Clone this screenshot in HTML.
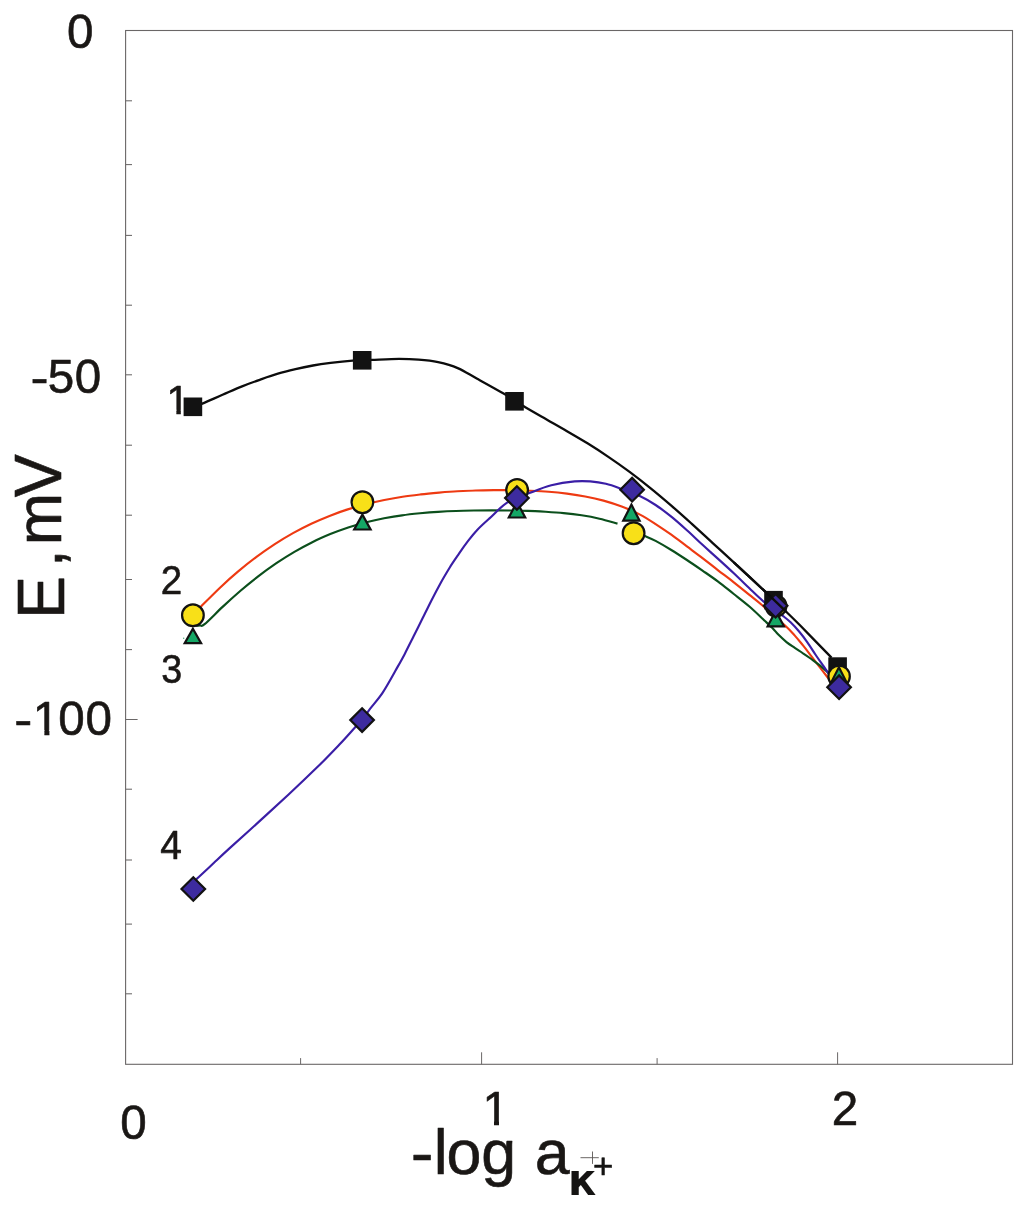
<!DOCTYPE html>
<html lang="en">
<head>
<meta charset="utf-8">
<title>E, mV vs -log a K+</title>
<style>
html,body{margin:0;padding:0;background:#fff;}
body{width:1024px;height:1211px;overflow:hidden;}
svg{display:block;}
</style>
</head>
<body>
<svg width="1024" height="1211" viewBox="0 0 1024 1211">
<rect width="1024" height="1211" fill="#ffffff"/>
<rect x="125.6" y="30.5" width="886.9" height="1033.8" fill="none" stroke="#6a6767" stroke-width="1.1"/>
<line x1="125.6" y1="100.8" x2="132.0" y2="100.8" stroke="#6a6767" stroke-width="1.05"/>
<line x1="125.6" y1="164.6" x2="132.0" y2="164.6" stroke="#6a6767" stroke-width="1.05"/>
<line x1="125.6" y1="235.4" x2="132.0" y2="235.4" stroke="#6a6767" stroke-width="1.05"/>
<line x1="125.6" y1="305.2" x2="132.0" y2="305.2" stroke="#6a6767" stroke-width="1.05"/>
<line x1="125.6" y1="374.8" x2="132.0" y2="374.8" stroke="#6a6767" stroke-width="1.05"/>
<line x1="125.6" y1="445.2" x2="132.0" y2="445.2" stroke="#6a6767" stroke-width="1.05"/>
<line x1="125.6" y1="515.2" x2="132.0" y2="515.2" stroke="#6a6767" stroke-width="1.05"/>
<line x1="125.6" y1="579.5" x2="132.0" y2="579.5" stroke="#6a6767" stroke-width="1.05"/>
<line x1="125.6" y1="649.6" x2="132.0" y2="649.6" stroke="#6a6767" stroke-width="1.05"/>
<line x1="125.6" y1="719.5" x2="137.6" y2="719.5" stroke="#6a6767" stroke-width="1.05"/>
<line x1="125.6" y1="789.2" x2="132.0" y2="789.2" stroke="#6a6767" stroke-width="1.05"/>
<line x1="125.6" y1="860.0" x2="132.0" y2="860.0" stroke="#6a6767" stroke-width="1.05"/>
<line x1="125.6" y1="924.1" x2="132.0" y2="924.1" stroke="#6a6767" stroke-width="1.05"/>
<line x1="125.6" y1="993.8" x2="132.0" y2="993.8" stroke="#6a6767" stroke-width="1.05"/>
<line x1="300.6" y1="1064.3" x2="300.6" y2="1058.1" stroke="#6a6767" stroke-width="1.0"/>
<line x1="481.6" y1="1064.3" x2="481.6" y2="1052.3" stroke="#6a6767" stroke-width="1.0"/>
<line x1="657.1" y1="1064.3" x2="657.1" y2="1058.1" stroke="#6a6767" stroke-width="1.0"/>
<line x1="837.6" y1="1064.3" x2="837.6" y2="1052.3" stroke="#6a6767" stroke-width="1.0"/>
<path d="M196.0 612.0 C196.9 611.0 197.7 609.9 201.7 605.8 C205.7 601.8 213.9 593.5 220.0 587.7 C226.0 582.0 232.1 576.5 238.2 571.4 C244.3 566.3 250.4 561.4 256.5 556.9 C262.6 552.3 268.7 548.1 274.8 544.1 C280.8 540.2 286.9 536.5 293.0 533.1 C299.1 529.7 305.2 526.6 311.3 523.7 C317.4 520.9 323.4 518.3 329.5 515.9 C335.6 513.5 341.7 511.3 347.8 509.4 C353.9 507.4 360.0 505.7 366.1 504.2 C372.1 502.6 378.2 501.2 384.3 500.0 C390.4 498.8 396.5 497.7 402.6 496.8 C408.7 495.8 414.8 495.1 420.8 494.4 C426.9 493.6 433.0 493.1 439.1 492.6 C445.2 492.1 451.3 491.6 457.4 491.3 C463.5 491.0 469.6 490.7 475.6 490.5 C481.7 490.3 487.8 490.2 493.9 490.1 C500.0 490.1 506.1 490.1 512.2 490.2 C518.2 490.3 524.3 490.4 530.4 490.7 C536.5 491.0 542.6 491.3 548.7 491.8 C554.8 492.3 560.9 492.9 567.0 493.6 C573.0 494.4 579.1 495.3 585.2 496.5 C591.3 497.6 597.4 498.9 603.5 500.6 C609.6 502.3 615.6 504.2 621.7 506.5 C627.8 508.8 634.4 511.6 640.0 514.6 C645.6 517.5 650.4 520.7 655.6 524.1 C660.8 527.5 666.1 531.0 671.3 534.7 C676.5 538.4 681.7 542.5 686.9 546.4 C692.1 550.3 697.3 554.1 702.5 558.1 C707.7 562.1 712.9 566.3 718.1 570.3 C723.3 574.3 728.6 578.2 733.8 582.3 C739.0 586.4 744.7 591.0 749.4 594.8 C754.1 598.6 755.9 599.8 761.9 605.0 C767.9 610.2 779.8 620.7 785.3 625.8 C790.8 630.9 791.8 632.3 794.8 635.6 C797.8 638.9 800.2 642.0 803.0 645.4 C805.8 648.8 808.5 652.5 811.3 656.1 C814.0 659.7 817.0 663.6 819.5 666.8 C822.0 670.0 824.3 673.0 826.2 675.5 C828.1 678.0 830.2 680.5 831.0 681.5" fill="none" stroke="#ee3a12" stroke-width="2.15" stroke-linecap="butt" stroke-linejoin="round"/>
<path d="M196.0 625.6 C196.7 625.6 198.6 625.6 200.0 625.4 C201.4 625.2 200.8 627.3 204.6 624.2 C208.4 621.2 216.6 612.5 222.6 606.9 C228.5 601.4 234.5 596.0 240.5 590.8 C246.5 585.7 252.5 580.8 258.5 576.2 C264.4 571.6 270.4 567.3 276.4 563.2 C282.4 559.2 288.4 555.4 294.4 551.9 C300.3 548.4 306.3 545.2 312.3 542.2 C318.3 539.2 324.3 536.6 330.3 534.1 C336.2 531.7 342.2 529.5 348.2 527.5 C354.2 525.6 360.2 523.9 366.2 522.3 C372.2 520.8 378.1 519.5 384.1 518.3 C390.1 517.2 396.1 516.2 402.1 515.4 C408.1 514.5 414.0 513.9 420.0 513.3 C426.0 512.7 432.0 512.2 438.0 511.9 C444.0 511.5 449.9 511.2 455.9 511.0 C461.9 510.7 467.9 510.6 473.9 510.5 C479.9 510.4 485.9 510.3 491.8 510.3 C497.8 510.3 503.8 510.4 509.8 510.5 C515.8 510.6 521.8 510.7 527.7 510.9 C533.7 511.1 539.7 511.4 545.7 511.7 C551.7 512.1 557.7 512.5 563.6 513.1 C569.6 513.7 575.6 514.4 581.6 515.3 C587.6 516.2 593.6 517.3 599.5 518.7 C605.5 520.0 614.5 522.8 617.5 523.6" fill="none" stroke="#0b4f1c" stroke-width="2.15" stroke-linecap="butt" stroke-linejoin="round"/>
<path d="M640.0 534.0 C640.9 534.4 642.9 535.1 645.5 536.3 C648.1 537.4 651.3 538.6 655.6 540.9 C659.9 543.2 666.1 546.8 671.3 550.0 C676.5 553.2 681.7 556.6 686.9 560.0 C692.1 563.4 697.3 567.0 702.5 570.6 C707.7 574.2 712.9 577.7 718.1 581.6 C723.3 585.5 728.6 589.9 733.8 594.0 C739.0 598.1 744.2 602.0 749.4 606.5 C754.6 611.0 761.0 617.3 765.0 621.0 C769.0 624.7 771.1 626.6 773.3 628.9 C775.5 631.2 776.1 632.4 778.3 634.6 C780.5 636.8 783.8 639.9 786.5 642.1 C789.2 644.3 792.0 646.0 794.8 647.9 C797.5 649.8 800.2 651.4 803.0 653.3 C805.8 655.1 808.5 657.0 811.3 659.0 C814.0 661.0 816.9 663.1 819.5 665.2 C822.1 667.3 824.9 669.9 827.0 671.8 C829.1 673.7 831.2 675.7 832.0 676.5" fill="none" stroke="#0b4f1c" stroke-width="2.15" stroke-linecap="butt" stroke-linejoin="round"/>
<path d="M195.5 880.2 C196.1 879.7 195.7 879.9 198.8 877.0 C201.9 874.1 208.8 867.6 214.0 862.8 C219.2 857.9 222.4 854.8 230.0 847.9 C237.6 841.0 249.5 830.3 259.3 821.4 C269.1 812.5 278.8 803.6 288.6 794.5 C298.4 785.4 309.3 775.0 317.9 766.6 C326.4 758.2 333.8 750.4 339.9 744.0 C346.0 737.6 350.8 732.0 354.5 728.0 C358.2 724.0 359.5 723.3 362.1 720.1 C364.7 716.9 366.6 713.5 370.0 708.9 C373.4 704.3 378.5 699.0 382.7 692.6 C386.9 686.2 391.8 677.2 395.4 670.8 C399.0 664.4 401.5 660.1 404.5 654.4 C407.5 648.6 410.6 642.3 413.6 636.3 C416.6 630.2 419.7 624.2 422.7 618.1 C425.7 612.0 428.7 605.8 431.7 599.9 C434.7 594.0 437.8 588.2 440.8 582.7 C443.8 577.2 446.9 572.1 449.9 567.2 C452.9 562.4 456.0 558.0 459.0 553.6 C462.0 549.2 465.1 544.8 468.1 540.9 C471.1 537.0 473.6 533.8 477.2 530.0 C480.8 526.2 484.5 522.9 489.5 518.4 C494.5 513.9 500.5 506.9 507.1 502.7 C513.8 498.5 522.0 496.0 529.4 493.1 C536.8 490.2 543.8 487.2 551.3 485.3 C558.8 483.4 568.2 482.0 574.7 481.4 C581.2 480.8 585.1 481.0 590.3 481.4 C595.5 481.8 600.9 482.6 605.9 483.8 C610.9 485.0 614.3 486.3 620.0 488.4 C625.7 490.5 634.4 493.5 640.3 496.3 C646.2 499.1 650.4 501.6 655.6 505.0 C660.8 508.4 666.1 512.5 671.3 516.7 C676.5 520.9 681.7 525.6 686.9 530.3 C692.1 535.0 697.3 540.0 702.5 544.8 C707.7 549.6 712.9 554.1 718.1 558.9 C723.3 563.6 728.6 568.4 733.8 573.3 C739.0 578.2 744.5 583.6 749.4 588.3 C754.3 593.0 757.8 596.7 763.4 601.3 C769.0 605.9 778.7 612.6 783.2 616.1 C787.7 619.6 788.0 619.8 790.6 622.3 C793.2 624.8 796.1 628.0 798.9 631.3 C801.7 634.6 804.5 638.2 807.2 642.1 C810.0 646.0 812.8 650.6 815.4 654.5 C818.0 658.4 820.7 662.2 822.8 665.2 C824.9 668.2 826.3 670.0 827.8 672.2 C829.3 674.4 831.3 677.5 832.0 678.5" fill="none" stroke="#3a1ea6" stroke-width="2.15" stroke-linecap="butt" stroke-linejoin="round"/>
<path d="M193.0 407.0 C194.6 406.4 197.4 405.6 202.3 403.6 C207.2 401.6 215.8 397.7 222.5 394.8 C229.2 391.9 236.4 388.6 242.7 386.1 C249.0 383.6 254.4 381.7 260.3 379.6 C266.2 377.5 272.0 375.4 277.9 373.7 C283.8 372.0 289.6 370.6 295.5 369.2 C301.4 367.8 307.1 366.6 313.0 365.5 C318.9 364.4 324.0 363.7 330.6 362.9 C337.2 362.1 345.8 361.2 352.6 360.7 C359.5 360.2 363.9 360.2 371.7 359.9 C379.4 359.6 391.3 358.9 399.1 358.9 C406.9 358.9 412.1 359.1 418.6 359.7 C425.1 360.2 431.6 360.8 438.1 362.2 C444.6 363.6 451.2 365.3 457.7 368.1 C464.2 370.9 469.4 374.5 477.2 378.8 C485.0 383.1 496.5 389.4 504.5 394.1 C512.5 398.8 518.4 403.0 525.3 407.2 C532.3 411.3 539.2 415.2 546.2 419.2 C553.1 423.2 560.1 427.1 567.0 431.2 C574.0 435.2 580.9 439.3 587.9 443.6 C594.8 447.9 601.8 452.4 608.7 457.1 C615.7 461.8 622.6 466.7 629.6 471.9 C636.5 477.0 643.5 482.5 650.4 488.1 C657.4 493.7 664.3 499.6 671.3 505.6 C678.2 511.6 685.2 517.9 692.1 524.1 C699.1 530.4 706.0 536.9 713.0 543.3 C719.9 549.6 725.1 554.3 733.8 562.3 C742.5 570.3 756.2 583.1 765.0 591.4 C773.8 599.7 780.7 606.4 786.5 612.0" fill="none" stroke="#0c0c0c" stroke-width="2.30" stroke-linecap="butt" stroke-linejoin="round"/>
<rect x="183.6" y="397.5" width="18.6" height="18.6" fill="#121212"/>
<rect x="352.9" y="351.0" width="18.6" height="18.6" fill="#121212"/>
<rect x="505.2" y="392.0" width="18.6" height="18.6" fill="#121212"/>
<rect x="764.2" y="590.9" width="18.6" height="18.6" fill="#121212"/>
<rect x="828.3" y="657.3" width="18.6" height="18.6" fill="#121212"/>
<circle cx="192.9" cy="615.3" r="10.85" fill="#f8e018" stroke="#121212" stroke-width="2.2"/>
<circle cx="362.4" cy="502.2" r="10.85" fill="#f8e018" stroke="#121212" stroke-width="2.2"/>
<circle cx="517.1" cy="490.0" r="10.85" fill="#f8e018" stroke="#121212" stroke-width="2.2"/>
<circle cx="633.6" cy="533.2" r="10.85" fill="#f8e018" stroke="#121212" stroke-width="2.2"/>
<circle cx="776.0" cy="606.0" r="10.40" fill="#f8e018" stroke="#121212" stroke-width="2.2"/>
<circle cx="839.1" cy="676.4" r="10.70" fill="#f8e018" stroke="#121212" stroke-width="2.2"/>
<path d="M192.9 628.7 L201.1 643.1 L184.7 643.1Z" fill="#14a765" stroke="#121212" stroke-width="2.2" stroke-linejoin="miter"/>
<path d="M362.4 514.6 L370.6 529.5 L354.2 529.5Z" fill="#14a765" stroke="#121212" stroke-width="2.2" stroke-linejoin="miter"/>
<path d="M517.0 501.9 L525.2 517.5 L508.8 517.5Z" fill="#14a765" stroke="#121212" stroke-width="2.2" stroke-linejoin="miter"/>
<path d="M631.4 504.6 L639.6 520.7 L623.2 520.7Z" fill="#14a765" stroke="#121212" stroke-width="2.2" stroke-linejoin="miter"/>
<path d="M775.8 610.9 L784.0 626.3 L767.6 626.3Z" fill="#14a765" stroke="#121212" stroke-width="2.2" stroke-linejoin="miter"/>
<path d="M838.9 667.3 L847.1 683.3 L830.7 683.3Z" fill="#14a765" stroke="#121212" stroke-width="2.2" stroke-linejoin="miter"/>
<path d="M193.3 877.2 L205.1 889.0 L193.3 900.8 L181.5 889.0Z" fill="#3d2b9f" stroke="#121212" stroke-width="2.2" stroke-linejoin="miter"/>
<path d="M362.1 708.3 L373.9 720.1 L362.1 731.9 L350.3 720.1Z" fill="#3d2b9f" stroke="#121212" stroke-width="2.2" stroke-linejoin="miter"/>
<path d="M516.9 486.2 L528.7 498.0 L516.9 509.8 L505.1 498.0Z" fill="#3d2b9f" stroke="#121212" stroke-width="2.2" stroke-linejoin="miter"/>
<path d="M632.1 477.9 L643.9 489.7 L632.1 501.5 L620.3 489.7Z" fill="#3d2b9f" stroke="#121212" stroke-width="2.2" stroke-linejoin="miter"/>
<path d="M775.6 593.9 L787.4 605.7 L775.6 617.5 L763.8 605.7Z" fill="#3d2b9f" stroke="#121212" stroke-width="2.2" stroke-linejoin="miter"/>
<path d="M839.1 675.4 L850.9 687.2 L839.1 699.0 L827.3 687.2Z" fill="#3d2b9f" stroke="#121212" stroke-width="2.2" stroke-linejoin="miter"/>
<circle cx="183.7" cy="638.2" r="0.7" fill="#4aa876"/>
<path d="M733.8 562.3 C742.5 570.3 756.2 583.1 765.0 591.4 C773.8 599.7 780.7 606.4 786.5 612.0 C792.3 617.6 792.5 617.7 800.0 625.3 C807.5 632.9 826.2 652.2 831.5 657.6" fill="none" stroke="#0c0c0c" stroke-width="2.30" stroke-linecap="butt" stroke-linejoin="round"/>
<text transform="translate(67.06 47.50) scale(1 1.0250)" x="0.00" y="0.00" font-family='"Liberation Sans", sans-serif' font-size="47.60" fill="#1a1715" stroke="#1a1715" stroke-width="0.60" stroke-linejoin="round">0</text>
<text transform="translate(30.56 392.90) scale(1 1.0250)" x="0.00 17.30 44.15" y="0.68 0.00 0.00" font-family='"Liberation Sans", sans-serif' font-size="47.60" fill="#1a1715" stroke="#1a1715" stroke-width="0.60" stroke-linejoin="round"><tspan textLength="18.07" lengthAdjust="spacingAndGlyphs">-</tspan>50</text>
<clipPath id="c1_1"><path clip-rule="evenodd" d="M-50 -50H1100V1300H-50ZM34.45 729.96H44.39V737.10H34.45ZM49.40 729.96H58.97V737.10H49.40Z"/></clipPath>
<g clip-path="url(#c1_1)"><text transform="translate(14.16 735.10) scale(1 1.0250)" x="0.00 18.66 44.15 71.30" y="0.78 0.00 0.00 0.00" font-family='"Liberation Sans", sans-serif' font-size="47.60" fill="#1a1715" stroke="#1a1715" stroke-width="0.60" stroke-linejoin="round"><tspan textLength="18.07" lengthAdjust="spacingAndGlyphs">-</tspan>100</text></g>
<text transform="translate(120.16 1139.20) scale(1 1.0250)" x="0.00" y="0.00" font-family='"Liberation Sans", sans-serif' font-size="47.60" fill="#1a1715" stroke="#1a1715" stroke-width="0.60" stroke-linejoin="round">0</text>
<clipPath id="c1_2"><path clip-rule="evenodd" d="M-50 -50H1100V1300H-50ZM484.05 1119.66H493.99V1126.80H484.05ZM499.00 1119.66H508.57V1126.80H499.00Z"/></clipPath>
<g clip-path="url(#c1_2)"><text transform="translate(482.42 1124.80) scale(1 1.0250)" x="0.00" y="0.00" font-family='"Liberation Sans", sans-serif' font-size="47.60" fill="#1a1715" stroke="#1a1715" stroke-width="0.60" stroke-linejoin="round">1</text></g>
<text transform="translate(831.81 1125.00) scale(1 1.0250)" x="0.00" y="0.00" font-family='"Liberation Sans", sans-serif' font-size="47.60" fill="#1a1715" stroke="#1a1715" stroke-width="0.60" stroke-linejoin="round">2</text>
<clipPath id="c1_3"><path clip-rule="evenodd" d="M-50 -50H1100V1300H-50ZM167.59 409.84H176.38V416.40H167.59ZM180.80 409.84H189.27V416.40H180.80Z"/></clipPath>
<g clip-path="url(#c1_3)"><text transform="translate(166.47 414.40)" x="0.00" y="0.00" font-family='"Liberation Sans", sans-serif' font-size="41.00" fill="#1a1715" stroke="#1a1715" stroke-width="0.60" stroke-linejoin="round">1</text></g>
<text transform="translate(160.68 594.30) scale(0.9400 1.0100)" x="0.00" y="0" font-family='"Liberation Sans", sans-serif' font-size="41.00" font-weight="normal" fill="#1a1715" stroke="#1a1715" stroke-width="0.60" stroke-linejoin="round">2</text>
<text transform="translate(161.32 683.00) scale(0.9200 1.0100)" x="0.00" y="0" font-family='"Liberation Sans", sans-serif' font-size="41.00" font-weight="normal" fill="#1a1715" stroke="#1a1715" stroke-width="0.60" stroke-linejoin="round">3</text>
<text transform="translate(160.19 858.65) scale(0.9500 1.0000)" x="0.00" y="0" font-family='"Liberation Sans", sans-serif' font-size="41.00" font-weight="normal" fill="#1a1715" stroke="#1a1715" stroke-width="0.60" stroke-linejoin="round">4</text>
<text transform="translate(410.80 1173.90)" x="0.00 22.90 35.80 70.50 105.70 123.90 157.20 182.10" y="0.00 0.00 0.00 0.00 0.00 0.00 20.80 3.80" font-family='"Liberation Sans", sans-serif' font-size="62.70" fill="#1a1715" stroke="#1a1715" stroke-width="0.60" stroke-linejoin="round"><tspan textLength="22.76" lengthAdjust="spacingAndGlyphs">-</tspan>log a<tspan font-size="45.00" textLength="28.25" lengthAdjust="spacingAndGlyphs" font-family="'DejaVu Sans', 'Liberation Sans', sans-serif" font-weight="bold" fill="#151413" stroke-width="0">к</tspan><tspan font-size="34.80" fill="#151413" stroke="#151413">+</tspan></text>
<path d="M580.5 1157.7H598.8M592.5 1151.5V1163.9" fill="none" stroke="#5a5653" stroke-width="0.9"/>
<g transform="rotate(-90)">
<text transform="translate(-619.00 60.60) scale(1.0000 1.0350)" x="0.00 52.00 73.80 121.70" y="3.29 0.87 0.00 0.00" font-family='"Liberation Sans", sans-serif' font-size="63.00" font-weight="normal" fill="#1a1715" stroke="#1a1715" stroke-width="0.60" stroke-linejoin="round"><tspan font-size="64.5">E</tspan>,m<tspan font-size="64.5">V</tspan></text>
</g>
</svg>
</body>
</html>
